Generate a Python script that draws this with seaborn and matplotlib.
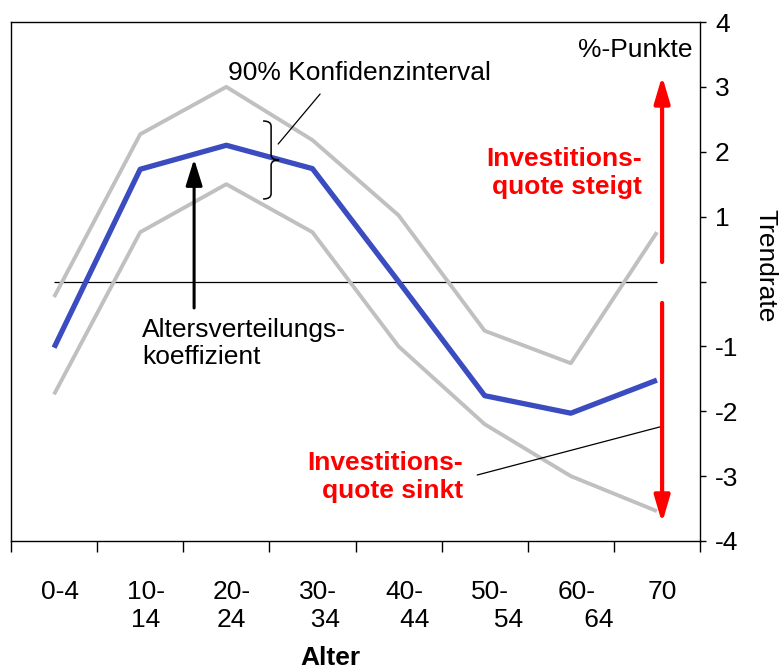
import numpy as np
import pandas as pd
import matplotlib
matplotlib.use("Agg")
import matplotlib.pyplot as plt
import seaborn as sns
from matplotlib.path import Path
from matplotlib.patches import PathPatch, FancyArrowPatch
from matplotlib.transforms import ScaledTranslation

# ---- data ----
categories = ["0-4", "10-14", "20-24", "30-34", "40-44", "50-54", "60-64", "70"]
tick_labels = ["0-4", "10-\n14", "20-\n24", "30-\n  34", "40-\n   44",
               "50-\n     54", "60-\n      64", "70"]
coef = [-1.02, 1.73, 2.10, 1.74, 0.00, -1.76, -2.03, -1.52]
upper = [-0.24, 2.27, 3.00, 2.18, 1.02, -0.76, -1.26, 0.76]
lower = [-1.74, 0.76, 1.50, 0.76, -1.00, -2.20, -3.00, -3.54]
y_ticks = [-4, -3, -2, -1, 0, 1, 2, 3, 4]
y_tick_labels = ["-4", "-3", "-2", "-1", "", "1", "2", "3", "4"]

sns.set_theme(style="white")
plt.rcParams["font.family"] = ["Liberation Sans", "DejaVu Sans"]

FS = 19
fig = plt.figure(figsize=(7.79, 6.69), dpi=100)
ax = fig.add_axes([11 / 779, 1 - 541 / 669, 689 / 779, 519 / 669])

x = np.arange(len(categories))
df = pd.DataFrame({"x": x, "coef": coef, "upper": upper, "lower": lower})
gray = "#c0c0c0"
blue = "#3a4cbf"
sns.lineplot(data=df, x="x", y="upper", color=gray, lw=2.8, ax=ax,
             solid_capstyle="butt")
sns.lineplot(data=df, x="x", y="lower", color=gray, lw=2.8, ax=ax,
             solid_capstyle="butt")
ax.hlines(0, x[0], x[-1], color="black", lw=0.9, zorder=1.5)
sns.lineplot(data=df, x="x", y="coef", color=blue, lw=3.8, ax=ax,
             solid_capstyle="butt")

ax.set_xlim(-0.5, len(categories) - 0.5)
ax.set_ylim(-4, 4)
ax.set_xlabel("")
ax.set_ylabel("")

# spines
for s in ax.spines.values():
    s.set_visible(True)
    s.set_color("black")
    s.set_linewidth(1.0)

# x axis: tick marks at category boundaries, labels at centres
ax.set_xticks(np.arange(-0.5, len(categories)))
ax.set_xticklabels([])
ax.set_xticks(x, minor=True)
ax.set_xticklabels(tick_labels, minor=True)
ax.tick_params(axis="x", which="major", direction="out", length=8, width=1,
               bottom=True, top=False, color="black")
ax.tick_params(axis="x", which="minor", length=0, pad=28, labelsize=FS,
               bottom=True, labelcolor="black")
off = ScaledTranslation(5.5 / 100, 0, fig.dpi_scale_trans)
for t in ax.xaxis.get_minor_ticks():
    t.label1.set_transform(t.label1.get_transform() + off)

# y axis on right
ax.yaxis.tick_right()
ax.set_yticks(y_ticks)
ax.set_yticklabels(y_tick_labels)
ax.tick_params(axis="y", direction="out", length=4.3, width=1, pad=6.5,
               labelsize=FS, right=True, left=False, color="black",
               labelcolor="black")

# brace
bx0, bx1, bx2 = 2.427, 2.520, 2.613
by0, by1, by2 = 2.474, 1.873, 1.272
verts = [(bx0, by0), (bx1, by0), (bx1, by0 - 0.08),
         (bx1, by1 + 0.08), (bx1, by1), (bx2, by1),
         (bx1, by1), (bx1, by1 - 0.08),
         (bx1, by2 + 0.08), (bx1, by2), (bx0, by2)]
codes = [Path.MOVETO, Path.CURVE3, Path.CURVE3,
         Path.LINETO, Path.CURVE3, Path.CURVE3,
         Path.CURVE3, Path.CURVE3,
         Path.LINETO, Path.CURVE3, Path.CURVE3]
ax.add_patch(PathPatch(Path(verts, codes), fc="none", ec="black", lw=1.1,
                       zorder=5))
ax.plot([2.602, 3.089], [2.119, 2.890], color="black", lw=0.9, zorder=5)
ax.text(2.02, 3.106, "90% Konfidenzinterval", fontsize=FS, ha="left",
        va="baseline", color="black")

# black arrow
ax.add_patch(FancyArrowPatch((1.626, -0.408), (1.626, 1.888),
                             arrowstyle="-|>,head_length=16,head_width=5",
                             mutation_scale=1, lw=2.2, color="black",
                             shrinkA=0, shrinkB=0, zorder=6))
ax.text(1.022, -0.555, "Altersverteilungs-\nkoeffizient", fontsize=FS,
        ha="left", va="top", color="black")

# red arrows
ax.add_patch(FancyArrowPatch((7.06, 0.30), (7.06, 3.168),
                             arrowstyle="-|>,head_length=16,head_width=4.7",
                             mutation_scale=1, lw=3.0, color="#ff0000",
                             shrinkA=0, shrinkB=0, zorder=6, clip_on=False))
ax.add_patch(FancyArrowPatch((7.06, -0.33), (7.06, -3.722),
                             arrowstyle="-|>,head_length=16,head_width=4.7",
                             mutation_scale=1, lw=3.0, color="#ff0000",
                             shrinkA=0, shrinkB=0, zorder=6, clip_on=False))
ax.text(6.83, 1.672, "Investitions-\nquote steigt", fontsize=FS,
        fontweight="bold", color="#ff0000", ha="right", va="center",
        multialignment="right")
ax.text(4.75, -3.01, "Investitions-\nquote sinkt", fontsize=FS,
        fontweight="bold", color="#ff0000", ha="right", va="center",
        multialignment="right")
ax.plot([4.913, 7.073], [-2.983, -2.228], color="black", lw=0.9, zorder=5)

ax.text(7.41, 3.456, "%-Punkte", fontsize=FS, ha="right", va="baseline",
        color="black")
fig.text(765 / 779, 1 - 266 / 669, "Trendrate", rotation=270, fontsize=FS,
         ha="center", va="center", color="black")
fig.text(330 / 779, 1 - 665 / 669, "Alter", fontsize=FS, fontweight="bold",
         ha="center", va="baseline", color="black")

fig.savefig("out.png", dpi=100)
